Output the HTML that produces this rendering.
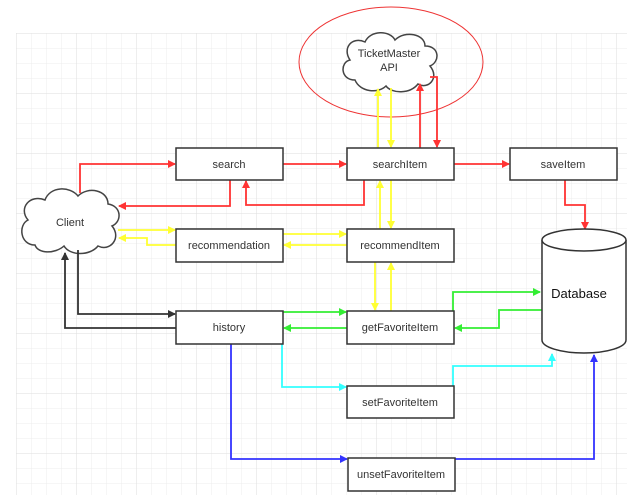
<!DOCTYPE html>
<html><head><meta charset="utf-8"><style>
html,body{margin:0;padding:0;background:#fff;}
svg{display:block;}
text{font-family:"Liberation Sans",sans-serif;font-size:11px;fill:#333;}
</style></head><body>
<svg width="634" height="504" viewBox="0 0 634 504" xmlns="http://www.w3.org/2000/svg">
<defs>
<pattern id="g" x="16" y="33" width="15" height="15" patternUnits="userSpaceOnUse">
<path d="M0 0H15M0 0V15" stroke="#ececec" stroke-width="1" fill="none"/>
</pattern>
<pattern id="G" x="16" y="33" width="60" height="60" patternUnits="userSpaceOnUse">
<path d="M0 0H60M0 0V60" stroke="#dedede" stroke-width="1" fill="none"/>
</pattern>
<marker id="r" markerWidth="8" markerHeight="8" refX="7" refY="4" orient="auto" markerUnits="userSpaceOnUse"><path d="M0 0L8 4L0 8z" fill="#ff3333"/></marker>
<marker id="y" markerWidth="8" markerHeight="8" refX="7" refY="4" orient="auto" markerUnits="userSpaceOnUse"><path d="M0 0L8 4L0 8z" fill="#ffff33"/></marker>
<marker id="k" markerWidth="8" markerHeight="8" refX="7" refY="4" orient="auto" markerUnits="userSpaceOnUse"><path d="M0 0L8 4L0 8z" fill="#333"/></marker>
<marker id="gr" markerWidth="8" markerHeight="8" refX="7" refY="4" orient="auto" markerUnits="userSpaceOnUse"><path d="M0 0L8 4L0 8z" fill="#33ee33"/></marker>
<marker id="c" markerWidth="8" markerHeight="8" refX="7" refY="4" orient="auto" markerUnits="userSpaceOnUse"><path d="M0 0L8 4L0 8z" fill="#33ffff"/></marker>
<marker id="b" markerWidth="8" markerHeight="8" refX="7" refY="4" orient="auto" markerUnits="userSpaceOnUse"><path d="M0 0L8 4L0 8z" fill="#3333ff"/></marker>
</defs>
<rect x="16" y="33" width="611" height="462" fill="url(#g)"/>
<rect x="16" y="33" width="611" height="462" fill="url(#G)"/>

<!-- red ellipse -->
<ellipse cx="391" cy="62" rx="92" ry="55" fill="none" stroke="#e33" stroke-width="1"/>

<!-- clouds -->
<g fill="#fff" stroke="#444" stroke-width="1.5">
<path d="M355 80 C340 80 340 62 350 60 C342 48 352 36 365 42 C370 30 390 30 395 40 C405 30 425 34 425 46 C440 46 440 62 430 66 C440 78 428 90 418 84 C410 94 392 94 386 86 C378 94 360 92 355 80 Z"/>
<path d="M35 245 C20 245 18 225 28 220 C18 208 30 194 45 200 C50 186 70 186 78 196 C88 186 108 190 108 204 C122 206 122 222 112 226 C122 238 110 252 98 246 C90 256 70 256 64 246 C55 254 38 254 35 245 Z"/>
</g>
<text x="389" y="57" text-anchor="middle">TicketMaster</text>
<text x="389" y="71" text-anchor="middle">API</text>
<text x="70" y="226" text-anchor="middle">Client</text>

<!-- connectors -->
<g fill="none" stroke-width="1.8">
<g stroke="#ff3333">
<path d="M80 193V164H175" marker-end="url(#r)"/>
<path d="M283 164H346" marker-end="url(#r)"/>
<path d="M454 164H509" marker-end="url(#r)"/>
<path d="M230 180V206H119" marker-end="url(#r)"/>
<path d="M364 180V205H246V181" marker-end="url(#r)"/>
<path d="M420 148V84" marker-end="url(#r)"/>
<path d="M430 77H437V147" marker-end="url(#r)"/>
<path d="M565 180V205H585V229" marker-end="url(#r)"/>
</g>
<g stroke="#ffff33">
<path d="M378 148V89" marker-end="url(#y)"/>
<path d="M391 88V147" marker-end="url(#y)"/>
<path d="M380 229V181" marker-end="url(#y)"/>
<path d="M391 180V228" marker-end="url(#y)"/>
<path d="M375 262V310" marker-end="url(#y)"/>
<path d="M391 311V263" marker-end="url(#y)"/>
<path d="M118 230H175" marker-end="url(#y)"/>
<path d="M176 245H147V238H119" marker-end="url(#y)"/>
<path d="M283 234H346" marker-end="url(#y)"/>
<path d="M347 245H284" marker-end="url(#y)"/>
</g>
<g stroke="#333">
<path d="M78 250V314H175" marker-end="url(#k)"/>
<path d="M176 328H65V253" marker-end="url(#k)"/>
</g>
<g stroke="#33ee33">
<path d="M283 312H346" marker-end="url(#gr)"/>
<path d="M347 328H284" marker-end="url(#gr)"/>
<path d="M453 311V292H540" marker-end="url(#gr)"/>
<path d="M542 310H499V328H455" marker-end="url(#gr)"/>
</g>
<g stroke="#33ffff">
<path d="M282 344V387H346" marker-end="url(#c)"/>
<path d="M453 386V366H552V354" marker-end="url(#c)"/>
</g>
<g stroke="#3333ff">
<path d="M231 344V459H347" marker-end="url(#b)"/>
<path d="M455 459H594V355" marker-end="url(#b)"/>
</g>
</g>

<!-- boxes -->
<g fill="#fff" stroke="#333" stroke-width="1.5">
<rect x="176" y="148" width="107" height="32"/>
<rect x="347" y="148" width="107" height="32"/>
<rect x="510" y="148" width="107" height="32"/>
<rect x="176" y="229" width="107" height="33"/>
<rect x="347" y="229" width="107" height="33"/>
<rect x="176" y="311" width="107" height="33"/>
<rect x="347" y="311" width="107" height="33"/>
<rect x="347" y="386" width="107" height="32"/>
<rect x="348" y="458" width="107" height="33"/>
</g>
<text x="229" y="168" text-anchor="middle">search</text>
<text x="400" y="168" text-anchor="middle">searchItem</text>
<text x="563" y="168" text-anchor="middle">saveItem</text>
<text x="229" y="249" text-anchor="middle">recommendation</text>
<text x="400" y="249" text-anchor="middle">recommendItem</text>
<text x="229" y="331" text-anchor="middle">history</text>
<text x="400" y="331" text-anchor="middle">getFavoriteItem</text>
<text x="400" y="406" text-anchor="middle">setFavoriteItem</text>
<text x="401" y="478" text-anchor="middle">unsetFavoriteItem</text>

<!-- database -->
<g stroke="#333" stroke-width="1.5" fill="#fff">
<path d="M542 240V340A42 13 0 0 0 626 340V240"/>
<ellipse cx="584" cy="240" rx="42" ry="11"/>
</g>
<text x="579" y="298" text-anchor="middle" style="font-size:13px;fill:#111">Database</text>
</svg>
</body></html>
